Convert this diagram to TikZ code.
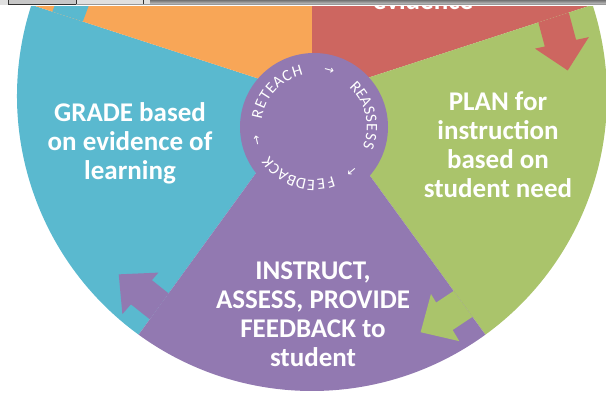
\documentclass[tikz,border=0pt]{standalone}
\usepackage{fontspec}
\setmainfont{Carlito}
\newfontfamily\arrowfont{DejaVu Sans}
\usetikzlibrary{calc}

\definecolor{segcyan}{HTML}{5AB9CF}
\definecolor{segorange}{HTML}{F8A657}
\definecolor{segred}{HTML}{CD6660}
\definecolor{seggreen}{HTML}{AAC46B}
\definecolor{segpurple}{HTML}{9279B1}

\begin{document}
\begin{tikzpicture}[x=1pt,y=1pt,
  steplabel/.style={text=white, font=\bfseries\fontsize{27}{29}\selectfont,
    align=center, inner sep=0pt},
  hubletter/.style={text=white, font=\fontsize{16}{16}\selectfont, inner sep=0pt},
  hubarrow/.style={text=white, font=\arrowfont\fontsize{12}{12}\selectfont, inner sep=0pt}]
\useasboundingbox (0,0) rectangle (606,392);
\clip (0,0) rectangle (606,392);

% centre of the wheel and of the hub
\coordinate (O) at (312,296);
\coordinate (H) at (314,265);

% five sectors of the wheel
\foreach \a/\c in {162/segcyan, 90/segorange, 18/segred, -54/seggreen, 234/segpurple}
  \fill[\c] (O) -- +(\a:295) arc[start angle=\a, end angle=\a+72, radius=295] -- cycle;

% each sector pushes an arrow into the next one, clockwise
% (boundary angle / colour / angular shift / radial shift)
\foreach \b/\c/\d/\e in {234/segpurple/0/3, -54/seggreen/0/0, 18/segred/-1/-3,
    90/segorange/0/0, 162/segcyan/0/0}
  \fill[\c, shift={(O)}] (\b:241+\e) -- ({\b+\d-5}:241+\e) -- ({\b+\d-5}:231+\e)
    -- ({\b+\d-11.3}:260+\e) -- ({\b+\d-5}:286+\e) -- ({\b+\d-5}:273+\e)
    -- (\b:273+\e) -- cycle;

% hub
\fill[segpurple] (H) circle[radius=74];

% lettering round the hub
\foreach \ch/\ang [count=\i] in {R/167, E/157, T/147.5, E/138, A/128.5, C/118, H/107,
    R/44, E/35, A/26, S/17, S/8.5, E/-0.5, S/-10, S/-19,
    F/-73, E/-83, E/-93, D/-103, B/-113, A/-123, C/-133, K/-143}
  \node[hubletter, rotate=\ang-90] (hub\i) at ($(H)+(\ang:58)$) {\ch};
\foreach \ang [count=\i] in {75, -50, 193}
  \node[hubarrow, rotate=\ang-90] (hubarrow\i) at ($(H)+(\ang:58)$) {→};

% step labels
\node[steplabel] (grade) at (130,248.5) {GRADE based\\on evidence of\\learning};
\node[steplabel] (plan) at (498,247) {PLAN for\\instruction\\based on\\student need};
\node[steplabel] (instruct) at (313,77.5) {INSTRUCT,\\ASSESS, PROVIDE\\FEEDBACK to\\student};
\node[steplabel, anchor=base] (evidence) at (423,382.5) {evidence};

% window strip along the top edge
\fill[white] (0,386) rectangle (606,392);
\shade[top color=black!55, bottom color=black!15] (150,387) rectangle (606,392);
\fill[black!12] (0,387) rectangle (150,392);
\filldraw[fill=black!22, draw=black!80, line width=0.8pt] (8,387.4) rectangle (76,393);
\draw[black!80, line width=1pt] (143,387) -- (143,392);
\draw[black!40, line width=0.6pt] (76,387.3) -- (606,387.3);
\end{tikzpicture}
\end{document}
